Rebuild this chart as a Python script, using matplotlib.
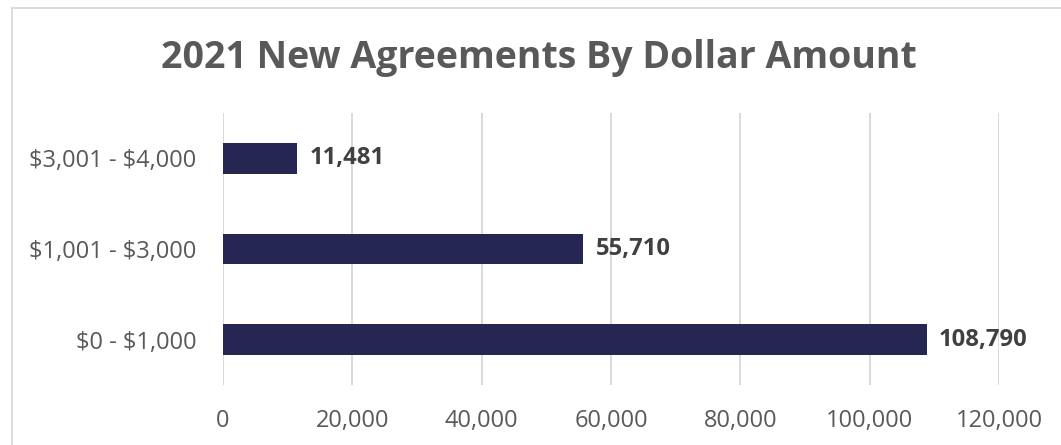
import matplotlib
matplotlib.use("Agg")
import matplotlib.pyplot as plt
from matplotlib.lines import Line2D
from matplotlib.ticker import FuncFormatter, MultipleLocator

plt.rcParams["font.family"] = ["Open Sans", "DejaVu Sans"]
plt.rcParams["text.parse_math"] = False

# Data
categories = ["$0 - $1,000", "$1,001 - $3,000", "$3,001 - $4,000"]
agreements = [108790, 55710, 11481]
title = "2021 New Agreements By Dollar Amount"

bar_color = "#262653"
grid_color = "#D9D9D9"
text_gray = "#595959"
label_dark = "#404040"

fig = plt.figure(figsize=(10.61, 4.45), dpi=100)
ax = fig.add_axes([0.2102, 0.1348, 0.7314, 0.6112])

y = list(range(len(categories)))
ax.barh(y, agreements, height=0.34, color=bar_color, zorder=3)

for yi, v in zip(y, agreements):
    ax.annotate(f"{v:,}", xy=(v, yi), xytext=(9, 0), textcoords="offset points",
                va="center", ha="left", fontsize=17.2, fontweight="bold",
                color=label_dark)

ax.set_xlim(0, 120000)
ax.set_ylim(-0.5, len(categories) - 0.5)
ax.xaxis.set_major_locator(MultipleLocator(20000))
ax.xaxis.set_major_formatter(FuncFormatter(lambda x, _: f"{int(x):,}"))
ax.set_yticks(y)
ax.set_yticklabels(categories)

ax.grid(axis="x", color=grid_color, linewidth=1.4, zorder=0)
ax.grid(axis="y", visible=False)
for s in ax.spines.values():
    s.set_visible(False)
ax.tick_params(axis="both", length=0, labelsize=17, labelcolor=text_gray)
ax.tick_params(axis="x", pad=17)
ax.tick_params(axis="y", pad=19)

fig.text(0.5076, 1 - 68 / 445, title, ha="center", va="baseline", fontsize=27,
         fontweight="bold", color=text_gray)

# Chart frame (top and left edges)
fig.add_artist(Line2D([11.5 / 1061, 1.0], [1 - 7.5 / 445, 1 - 7.5 / 445],
                      transform=fig.transFigure, color=grid_color, linewidth=1.3))
fig.add_artist(Line2D([11.5 / 1061, 11.5 / 1061], [0.0, 1 - 7.5 / 445],
                      transform=fig.transFigure, color=grid_color, linewidth=1.3))

fig.savefig("out.png", dpi=100, facecolor="white")
